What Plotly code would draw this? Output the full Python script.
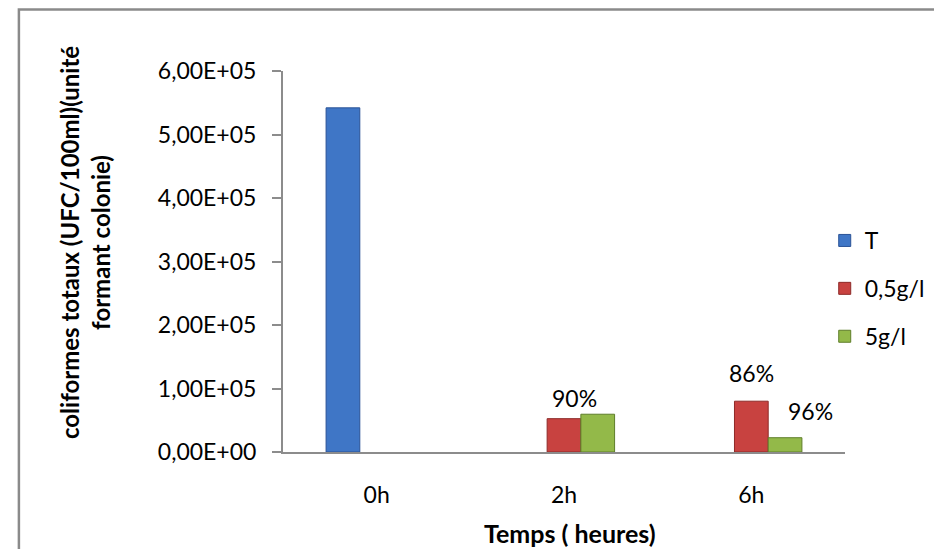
import plotly.graph_objects as go

categories = ["0h", "2h", "6h"]
series_names = ["T", "0,5g/l", "5g/l"]
t_values = [5.42e5, None, None]
low_values = [None, 5.25e4, 8.0e4]
high_values = [None, 5.95e4, 2.25e4]
y_tickvals = [0, 1e5, 2e5, 3e5, 4e5, 5e5, 6e5]
y_ticktext = ["0,00E+00", "1,00E+05", "2,00E+05", "3,00E+05", "4,00E+05", "5,00E+05", "6,00E+05"]
pct_labels = ["90%", "86%", "96%"]

FONT = "Lato"
OFF = 8  # page body margin
W, H = 942 - OFF, 549 - OFF
# plot area in reference pixels: x 283..865, y 71..452
L, R, T, B = 283 - OFF, W - (865 - OFF), 71 - OFF, H - (452 - OFF)
pw, ph = W - L - R, H - T - B

def px_x(p):
    return (p - OFF - L) / pw

def px_y(p):
    return (H - B - (p - OFF)) / ph

fig = go.Figure()
colors = ["#3F76C6", "#C84240", "#93B949"]
lines = ["#2A5296", "#8E2A28", "#5F7E2A"]
for name, vals, c, lc in zip(series_names, [t_values, low_values, high_values], colors, lines):
    fig.add_trace(go.Bar(x=categories, y=vals, name=name, marker=dict(color=c, line=dict(color=lc, width=1)),
                         legendgroup=name))

fig.update_layout(
    width=W, height=H,
    margin=dict(l=L, r=R, t=T, b=B),
    paper_bgcolor="white", plot_bgcolor="white",
    barmode="group", bargap=0.46, bargroupgap=0,
    font=dict(family=FONT, size=23, color="#000000"),
    showlegend=True,
    legend=dict(x=px_x(844), y=px_y(219), xanchor="left", yanchor="top",
                font=dict(size=23), tracegroupgap=15, traceorder="grouped",
                itemwidth=30, bgcolor="rgba(0,0,0,0)"),
    xaxis=dict(showline=True, linecolor="#8c8c8c", linewidth=2, ticks="",
               showgrid=False, zeroline=False, ticklabelstandoff=21,
               tickfont=dict(size=23)),
    yaxis=dict(range=[0, 6e5], tickvals=y_tickvals, ticktext=y_ticktext,
               showline=True, linecolor="#8c8c8c", linewidth=2, ticks="outside",
               ticklen=9, tickcolor="#8c8c8c", tickwidth=2, showgrid=False,
               zeroline=False, ticklabelstandoff=11, tickfont=dict(size=23)),
)

# percentage labels
fig.add_annotation(x=categories[1], y=max(low_values[1], high_values[1]), text=pct_labels[0],
                   showarrow=False, yanchor="bottom", yshift=0, xshift=10, font=dict(size=23))
fig.add_annotation(x=categories[2], y=low_values[2], text=pct_labels[1],
                   showarrow=False, yanchor="bottom", yshift=12, xshift=0, font=dict(size=23))
fig.add_annotation(x=categories[2], y=high_values[2], text=pct_labels[2],
                   showarrow=False, yanchor="bottom", yshift=11, xshift=59, font=dict(size=23))

# axis titles
fig.add_annotation(xref="paper", yref="paper", x=px_x(580), y=px_y(549), text="<b>Temps ( heures)</b>",
                   showarrow=False, xanchor="center", yanchor="bottom", borderpad=0,
                   font=dict(size=25))
fig.add_annotation(xref="paper", yref="paper", x=px_x(78), y=px_y(243),
                   text="<b>coliformes totaux (UFC/100ml)(unité<br>formant colonie)</b>",
                   showarrow=False, textangle=-90, xanchor="center", yanchor="middle",
                   font=dict(size=24))

# outer chart border
fig.add_shape(type="rect", xref="paper", yref="paper", x0=px_x(9.5), y0=px_y(570), x1=px_x(980), y1=px_y(9.5),
              line=dict(color="#8a8a8a", width=2.5), fillcolor="rgba(0,0,0,0)", layer="below")

fig.write_html("out.html")
